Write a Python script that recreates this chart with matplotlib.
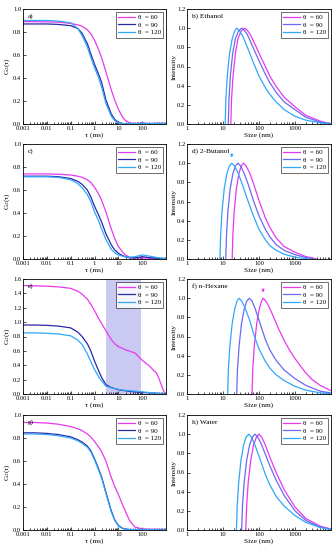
import matplotlib
matplotlib.use("Agg")
import matplotlib.pyplot as plt
from matplotlib.ticker import LogLocator, NullFormatter, FixedLocator, FixedFormatter

plt.rcParams["font.family"] = ["Liberation Serif", "DejaVu Serif"]
plt.rcParams["mathtext.fontset"] = "stix"

c60 = "#e838f0"
c90_left = "#2828a8"
c90_right = "#6a6af0"
c120 = "#2fa8f8"

labels = ["θ  = 60", "θ  = 90", "θ  = 120"]

### correlation functions (left column)
tau = [0.001, 0.003, 0.01, 0.03, 0.1, 0.2, 0.3, 0.5, 0.7, 1, 1.5, 2, 3, 5, 7,
       10, 15, 20, 30, 50, 100, 200, 500, 1000]

g2_a_60 = [0.89, 0.89, 0.888, 0.885, 0.875, 0.862, 0.85, 0.82, 0.785, 0.73, 0.645, 0.575,
           0.455, 0.30, 0.21, 0.13, 0.06, 0.03, 0.01, 0.005, 0.008, 0.004, 0.006, 0.003]
g2_a_90 = [0.87, 0.87, 0.87, 0.866, 0.855, 0.83, 0.79, 0.70, 0.61, 0.52, 0.43, 0.36,
           0.21, 0.09, 0.04, 0.015, 0.004, 0.002, 0.003, 0.002, 0.005, 0.003, 0.004, 0.002]
g2_a_120 = [0.90, 0.90, 0.90, 0.895, 0.88, 0.83, 0.77, 0.67, 0.58, 0.49, 0.40, 0.32,
            0.18, 0.07, 0.03, 0.01, 0.003, 0.002, 0.004, 0.003, 0.006, 0.004, 0.005, 0.003]

g2_c_60 = [0.74, 0.74, 0.74, 0.737, 0.73, 0.72, 0.71, 0.69, 0.665, 0.625, 0.565, 0.51,
           0.41, 0.265, 0.18, 0.11, 0.06, 0.035, 0.015, 0.008, 0.01, 0.006, 0.004, 0.0]
g2_c_90 = [0.72, 0.72, 0.72, 0.716, 0.70, 0.675, 0.65, 0.60, 0.54, 0.46, 0.38, 0.32,
           0.22, 0.125, 0.08, 0.05, 0.03, 0.02, 0.01, 0.01, 0.02, 0.012, 0.005, 0.0]
g2_c_120 = [0.715, 0.715, 0.715, 0.71, 0.69, 0.655, 0.62, 0.56, 0.50, 0.41, 0.33, 0.26,
            0.17, 0.085, 0.055, 0.035, 0.025, 0.018, 0.015, 0.02, 0.035, 0.025, 0.01, 0.003]

tau_e = [0.001, 0.003, 0.01, 0.03, 0.1, 0.2, 0.3, 0.5, 0.7, 1, 1.5, 2, 3, 5, 7,
         10, 15, 20, 30, 50, 100, 200, 300, 400, 500, 700, 900]
g2_e_60 = [1.51, 1.505, 1.50, 1.49, 1.47, 1.43, 1.39, 1.32, 1.25, 1.16, 1.05, 0.98, 0.88,
           0.76, 0.70, 0.66, 0.635, 0.615, 0.595, 0.57, 0.47, 0.39, 0.33, 0.29, 0.22, 0.09, 0.0]
g2_e_90 = [0.96, 0.96, 0.955, 0.945, 0.92, 0.86, 0.80, 0.70, 0.60, 0.46, 0.32, 0.23, 0.13,
           0.09, 0.075, 0.06, 0.05, 0.045, 0.035, 0.03, 0.02, 0.015, 0.012, 0.01, 0.008, 0.005, 0.003]
g2_e_120 = [0.85, 0.85, 0.845, 0.835, 0.81, 0.75, 0.69, 0.56, 0.45, 0.34, 0.24, 0.18, 0.11,
            0.085, 0.075, 0.065, 0.055, 0.05, 0.045, 0.04, 0.03, 0.02, 0.015, 0.01, 0.006, 0.003, 0.0]
shade_e = (2.9, 88)

g2_g_60 = [0.935, 0.935, 0.93, 0.92, 0.90, 0.88, 0.865, 0.835, 0.81, 0.77, 0.72, 0.68,
           0.60, 0.46, 0.38, 0.31, 0.22, 0.16, 0.08, 0.025, 0.01, 0.008, 0.006, 0.005]
g2_g_90 = [0.845, 0.845, 0.84, 0.83, 0.81, 0.785, 0.765, 0.73, 0.69, 0.62, 0.53, 0.46,
           0.33, 0.17, 0.09, 0.04, 0.015, 0.008, 0.004, 0.003, 0.004, 0.003, 0.002, 0.002]
g2_g_120 = [0.835, 0.835, 0.83, 0.82, 0.80, 0.775, 0.755, 0.72, 0.68, 0.61, 0.52, 0.45,
            0.32, 0.16, 0.085, 0.035, 0.012, 0.006, 0.004, 0.003, 0.004, 0.003, 0.002, 0.002]

### size distributions (right column)
# b) Ethanol
s_b_60 = [16.5, 17.2, 19, 22, 26, 32, 40, 47, 58, 80, 100, 150, 200, 300, 500, 1000, 2000, 5000, 10000]
i_b_60 = [0, 0.25, 0.5, 0.73, 0.89, 0.97, 1.0, 0.98, 0.93, 0.82, 0.74, 0.60, 0.50, 0.39, 0.28, 0.18, 0.09, 0.03, 0.0]
s_b_90 = [14, 14.6, 16, 18.5, 22, 27, 33, 39, 48, 70, 100, 150, 200, 300, 500, 1000, 2000, 5000, 10000]
i_b_90 = [0, 0.25, 0.5, 0.73, 0.89, 0.97, 1.0, 0.98, 0.93, 0.79, 0.66, 0.52, 0.43, 0.33, 0.23, 0.15, 0.07, 0.02, 0.0]
s_b_120 = [11.5, 12, 13, 15, 18, 21, 24, 28, 35, 50, 70, 100, 150, 200, 300, 500, 1000, 2000, 5000, 10000]
i_b_120 = [0, 0.25, 0.48, 0.72, 0.89, 0.97, 1.0, 0.98, 0.92, 0.78, 0.64, 0.50, 0.38, 0.31, 0.23, 0.15, 0.08, 0.04, 0.012, 0.0]

# d) 2-Butanol
s_d_60 = [18, 18.8, 20.5, 23.5, 27.5, 32, 37, 44, 55, 70, 100, 150, 200, 300, 500, 1000, 2000, 4000]
i_d_60 = [0, 0.25, 0.5, 0.73, 0.89, 0.97, 1.0, 0.97, 0.9, 0.79, 0.61, 0.43, 0.33, 0.22, 0.13, 0.07, 0.025, 0]
s_d_90 = [11.9, 12.5, 13.7, 15.8, 18.8, 22, 26, 31, 38, 50, 70, 100, 150, 200, 300, 500, 1000, 2000, 3500]
i_d_90 = [0, 0.25, 0.5, 0.73, 0.89, 0.97, 1.0, 0.97, 0.9, 0.78, 0.61, 0.45, 0.31, 0.23, 0.15, 0.09, 0.045, 0.015, 0]
s_d_120 = [8.2, 8.6, 9.4, 10.8, 12.8, 15, 17.5, 21, 26, 35, 50, 70, 100, 150, 200, 300, 500, 1000, 1500, 2500]
i_d_120 = [0, 0.25, 0.5, 0.73, 0.89, 0.97, 1.0, 0.97, 0.9, 0.77, 0.6, 0.45, 0.31, 0.2, 0.14, 0.09, 0.05, 0.02, 0.008, 0]
arrow_d = 17.5

# f) n-Hexane
s_f_60 = [64, 67, 74, 86, 102, 118, 130, 155, 190, 250, 350, 500, 700, 1000, 1500, 2000, 3000, 5000, 10000]
i_f_60 = [0, 0.25, 0.5, 0.73, 0.89, 0.97, 1.0, 0.97, 0.91, 0.81, 0.68, 0.56, 0.46, 0.37, 0.28, 0.22, 0.15, 0.09, 0.035]
s_f_90 = [24, 25.2, 28, 32.5, 39, 46, 54, 64, 80, 100, 150, 200, 300, 500, 1000, 2000, 5000, 10000]
i_f_90 = [0, 0.25, 0.5, 0.73, 0.89, 0.97, 1.0, 0.97, 0.88, 0.77, 0.57, 0.46, 0.35, 0.25, 0.16, 0.09, 0.03, 0.01]
s_f_120 = [13.5, 14.1, 15.5, 17.9, 21.2, 24.5, 28, 33, 41, 55, 75, 100, 150, 200, 300, 500, 1000, 2000, 5000, 10000]
i_f_120 = [0, 0.25, 0.5, 0.73, 0.89, 0.97, 1.0, 0.97, 0.9, 0.77, 0.6, 0.47, 0.34, 0.27, 0.2, 0.14, 0.08, 0.04, 0.012, 0.0]
arrow_f = 130

# h) Water
s_h_60 = [43, 45.3, 50.3, 59, 71, 85, 100, 118, 145, 200, 300, 500, 1000, 2000, 5000, 10000]
i_h_60 = [0, 0.25, 0.5, 0.73, 0.89, 0.97, 1.0, 0.97, 0.9, 0.76, 0.6, 0.42, 0.24, 0.12, 0.04, 0.01]
s_h_90 = [33, 34.8, 38.7, 45.5, 55, 66, 78, 92, 115, 150, 200, 300, 500, 1000, 2000, 5000, 10000]
i_h_90 = [0, 0.25, 0.5, 0.73, 0.89, 0.97, 1.0, 0.97, 0.9, 0.79, 0.67, 0.52, 0.36, 0.2, 0.1, 0.03, 0.008]
s_h_120 = [23.6, 24.8, 27.3, 31.6, 37.5, 44, 52, 61, 75, 100, 150, 200, 300, 500, 1000, 2000, 5000, 10000]
i_h_120 = [0, 0.25, 0.5, 0.73, 0.89, 0.97, 1.0, 0.97, 0.9, 0.77, 0.58, 0.47, 0.35, 0.25, 0.15, 0.08, 0.025, 0.005]


fig = plt.figure(figsize=(3.36, 5.5), dpi=100)

W, H = 336.0, 550.0
row_top = [9, 144, 279, 415]
ax_h = 115


def style(ax):
    ax.tick_params(which="both", direction="in", labelsize=4.7, width=0.5, pad=1.2)
    ax.tick_params(which="major", length=2.2)
    ax.tick_params(which="minor", length=1.2)
    for sp in ax.spines.values():
        sp.set_linewidth(0.6)
    leg = ax.legend(loc="upper right", fontsize=5, handlelength=2.4, borderpad=0.35,
                    labelspacing=0.25, handletextpad=0.4, fancybox=False,
                    borderaxespad=0.4, frameon=True)
    leg.get_frame().set_edgecolor("black")
    leg.get_frame().set_linewidth(0.5)


def left_panel(row, t, y60, y90, y120, tag, ymax, yticks, shade=None):
    top = row_top[row]
    ax = fig.add_axes([23 / W, 1 - (top + ax_h) / H, 143 / W, ax_h / H])
    if shade is not None:
        ax.axvspan(shade[0], shade[1], color="#c9c9f2", lw=0, zorder=0)
    ax.plot(t, y60, color=c60, lw=0.9, label=labels[0])
    ax.plot(t, y90, color=c90_left, lw=0.9, label=labels[1])
    ax.plot(t, y120, color=c120, lw=0.9, label=labels[2])
    ax.set_xscale("log")
    ax.set_xlim(0.001, 1000)
    ax.set_ylim(0, ymax)
    ax.xaxis.set_major_locator(FixedLocator([0.001, 0.01, 0.1, 1, 10, 100]))
    ax.xaxis.set_major_formatter(FixedFormatter(["0.001", "0.01", "0.1", "1", "10", "100"]))
    ax.xaxis.set_minor_locator(LogLocator(base=10, subs=range(2, 10), numticks=20))
    ax.xaxis.set_minor_formatter(NullFormatter())
    ax.set_yticks(yticks)
    ax.set_yticklabels(["%.1f" % v for v in yticks])
    ax.set_xlabel("τ (ms)", fontsize=5.3, labelpad=1)
    ax.set_ylabel("G$_2$(τ)", fontsize=5.3, labelpad=0.5)
    ax.text(0.035, 0.965, tag, transform=ax.transAxes, fontsize=5.3, va="top", ha="left")
    style(ax)
    return ax


def right_panel(row, d60, d90, d120, tag, arrow=None):
    top = row_top[row]
    ax = fig.add_axes([187 / W, 1 - (top + ax_h) / H, 144 / W, ax_h / H])
    ax.plot(d60[0], d60[1], color=c60, lw=0.9, label=labels[0])
    ax.plot(d90[0], d90[1], color=c90_right, lw=0.9, label=labels[1])
    ax.plot(d120[0], d120[1], color=c120, lw=0.9, label=labels[2])
    ax.set_xscale("log")
    ax.set_xlim(1, 10000)
    ax.set_ylim(0, 1.2)
    ax.xaxis.set_major_locator(FixedLocator([1, 10, 100, 1000]))
    ax.xaxis.set_major_formatter(FixedFormatter(["1", "10", "100", "1000"]))
    ax.xaxis.set_minor_locator(LogLocator(base=10, subs=range(2, 10), numticks=20))
    ax.xaxis.set_minor_formatter(NullFormatter())
    yt = [0.0, 0.2, 0.4, 0.6, 0.8, 1.0, 1.2]
    ax.set_yticks(yt)
    ax.set_yticklabels(["%.1f" % v for v in yt])
    ax.set_xlabel("Size (nm)", fontsize=5.3, labelpad=1)
    ax.set_ylabel("Intensity", fontsize=5.3, labelpad=0.5)
    ax.text(0.035, 0.965, tag, transform=ax.transAxes, fontsize=5.3, va="top", ha="left")
    if arrow is not None:
        ax.annotate("", xy=(arrow[0], 1.03), xytext=(arrow[0], 1.13),
                    arrowprops=dict(arrowstyle="-|>", color=arrow[1], lw=0.6,
                                    mutation_scale=4))
    style(ax)
    return ax


left_panel(0, tau, g2_a_60, g2_a_90, g2_a_120, "a)", 1.0, [0.0, 0.2, 0.4, 0.6, 0.8, 1.0])
left_panel(1, tau, g2_c_60, g2_c_90, g2_c_120, "c)", 1.0, [0.0, 0.2, 0.4, 0.6, 0.8, 1.0])
left_panel(2, tau_e, g2_e_60, g2_e_90, g2_e_120, "e)", 1.6,
           [0.0, 0.2, 0.4, 0.6, 0.8, 1.0, 1.2, 1.4, 1.6], shade=shade_e)
left_panel(3, tau, g2_g_60, g2_g_90, g2_g_120, "g)", 1.0, [0.0, 0.2, 0.4, 0.6, 0.8, 1.0])

right_panel(0, (s_b_60, i_b_60), (s_b_90, i_b_90), (s_b_120, i_b_120), "b) Ethanol")
right_panel(1, (s_d_60, i_d_60), (s_d_90, i_d_90), (s_d_120, i_d_120), "d) 2-Butanol",
            arrow=(arrow_d, c120))
right_panel(2, (s_f_60, i_f_60), (s_f_90, i_f_90), (s_f_120, i_f_120), "f) n-Hexane",
            arrow=(arrow_f, c60))
right_panel(3, (s_h_60, i_h_60), (s_h_90, i_h_90), (s_h_120, i_h_120), "h) Water")

fig.savefig("out.png", dpi=100)
